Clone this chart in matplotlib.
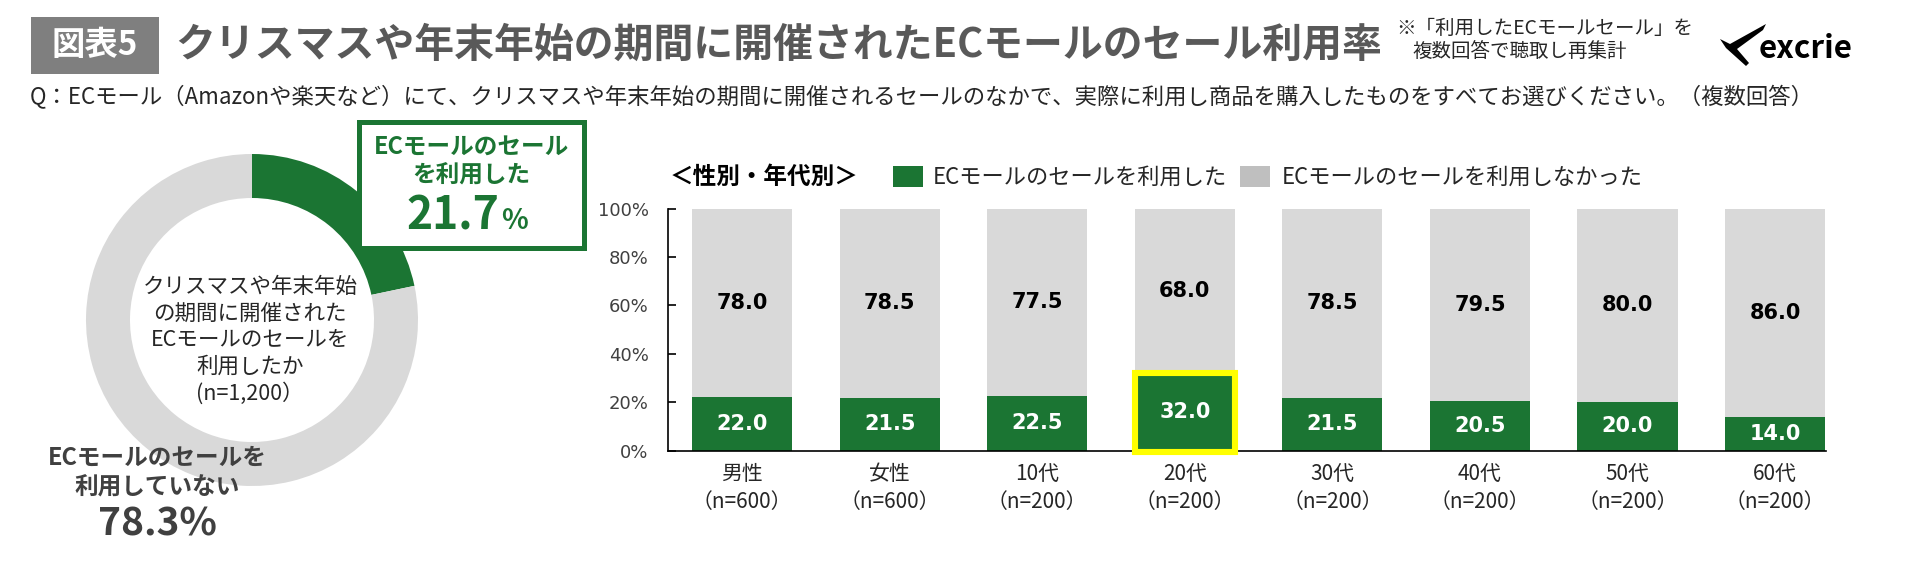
import matplotlib
matplotlib.use("Agg")
import matplotlib.pyplot as plt
from matplotlib.patches import Rectangle, Polygon

plt.rcParams['font.family'] = ['Noto Sans CJK JP', 'DejaVu Sans']

# データ
categories = ["男性", "女性", "10代", "20代", "30代", "40代", "50代", "60代"]
sample_sizes = [600, 600, 200, 200, 200, 200, 200, 200]
used = [22.0, 21.5, 22.5, 32.0, 21.5, 20.5, 20.0, 14.0]
not_used = [78.0, 78.5, 77.5, 68.0, 78.5, 79.5, 80.0, 86.0]
total_share = [21.7, 78.3]
total_n = 1200

GREEN = "#1b7533"
GRAY = "#d9d9d9"
DARK = "#404040"
TXT = "#262626"

W, H = 1919, 564
fig = plt.figure(figsize=(W / 100, H / 100), dpi=100)

# ドーナツ
cx, cy, r = 252, 320, 170
ax_d = fig.add_axes([(cx - r) / W, (H - cy - r) / H, 2 * r / W, 2 * r / H])
ax_d.pie(total_share, startangle=90, counterclock=False, colors=[GREEN, GRAY],
         radius=166, wedgeprops=dict(width=44, edgecolor="none"))
ax_d.set_xlim(-r, r)
ax_d.set_ylim(-r, r)
ax_d.axis("off")

# 積み上げ棒グラフ
y0, y100 = 450.5, 208.5
x_left, x_right = 668, 1826
ax_b = fig.add_axes([x_left / W, (H - y0) / H, (x_right - x_left) / W, (y0 - y100) / H])
xs = list(range(len(categories)))
bw = 0.678
ax_b.bar(xs, used, width=bw, color=GREEN, zorder=2)
ax_b.bar(xs, not_used, width=bw, bottom=used, color=GRAY, zorder=2)
for x, u, n in zip(xs, used, not_used):
    ax_b.text(x, u / 2, f"{u:.1f}", ha="center", va="center", color="white",
              fontsize=15, fontweight="bold", family="DejaVu Sans", zorder=3)
    ax_b.text(x, u + n / 2, f"{n:.1f}", ha="center", va="center", color="black",
              fontsize=15, fontweight="bold", family="DejaVu Sans", zorder=3)

# 20代を強調
hi = used.index(max(used))
ax_b.add_patch(Rectangle((hi - bw / 2, -0.6), bw, used[hi] + 0.6, fill=False,
                         edgecolor="#ffff00", linewidth=4.4, zorder=5, clip_on=False))

ax_b.set_xlim(-0.502, 7.345)
ax_b.set_ylim(0, 100)
ax_b.set_yticks([0, 20, 40, 60, 80, 100])
ax_b.set_yticklabels([f"{v}%" for v in range(0, 101, 20)], family="DejaVu Sans",
                     fontsize=13, color=DARK)
ax_b.set_xticks(xs)
ax_b.set_xticklabels([f"{c}\n（n={n}）" for c, n in zip(categories, sample_sizes)],
                     fontsize=15, color=TXT, linespacing=1.35)
ax_b.tick_params(axis="y", direction="in", length=6, width=1.2, pad=14)
ax_b.tick_params(axis="x", length=0, pad=9)
for s in ["top", "right"]:
    ax_b.spines[s].set_visible(False)
ax_b.spines["left"].set_linewidth(1.2)
ax_b.spines["bottom"].set_linewidth(1.2)
ax_b.set_facecolor("none")

# テキスト・装飾用オーバーレイ
ov = fig.add_axes([0, 0, 1, 1], zorder=10)
ov.set_xlim(0, W)
ov.set_ylim(H, 0)
ov.axis("off")
ov.patch.set_alpha(0)

# タイトル
ov.add_patch(Rectangle((31, 17), 128, 57, facecolor="#7f7f7f", edgecolor="none"))
ov.text(95, 46, "図表5", ha="center", va="center", color="white", fontsize=24, fontweight="bold")
ov.text(175, 45, "クリスマスや年末年始の期間に開催されたECモールのセール利用率",
        ha="left", va="center", color="#595959", fontsize=28.7, fontweight="bold")
ov.text(1545, 28, "※「利用したECモールセール」を", ha="center", va="center", color=TXT, fontsize=14)
ov.text(1520, 51, "複数回答で聴取し再集計", ha="center", va="center", color=TXT, fontsize=14)

# ロゴ
ov.add_patch(Polygon([(1766, 24), (1730, 44), (1720, 39), (1726, 48), (1746, 66),
                      (1749, 63), (1737, 49), (1763, 30)], closed=True,
                     facecolor="black", edgecolor="none"))
ov.text(1806, 49, "excrie", ha="center", va="center", color="black", fontsize=22.5, fontweight="bold")

ov.text(30, 97, "Q：ECモール（Amazonや楽天など）にて、クリスマスや年末年始の期間に開催されるセールのなかで、"
        "実際に利用し商品を購入したものをすべてお選びください。（複数回答）",
        ha="left", va="center", color=TXT, fontsize=16.1)

# ドーナツ中央
center_lines = ["クリスマスや年末年始", "の期間に開催された", "ECモールのセールを", "利用したか", f"(n={total_n:,}）"]
for i, line in enumerate(center_lines):
    ov.text(250, 287 + i * 26.7, line, ha="center", va="center", color=TXT, fontsize=15.5)

# 利用した ボックス
ov.add_patch(Rectangle((359, 122), 225, 126, facecolor="white", edgecolor=GREEN, linewidth=3.6))
ov.text(471, 147, "ECモールのセール", ha="center", va="center", color=GREEN, fontsize=17, fontweight="bold")
ov.text(471, 176, "を利用した", ha="center", va="center", color=GREEN, fontsize=17, fontweight="bold")
ov.text(499, 229, f"{total_share[0]:.1f}", ha="right", va="baseline", color=GREEN,
        fontsize=32, fontweight="bold")
ov.text(501, 229, "%", ha="left", va="baseline", color=GREEN, fontsize=20, fontweight="bold")

# 利用していない
ov.text(157, 458, "ECモールのセールを", ha="center", va="center", color=DARK, fontsize=17, fontweight="bold")
ov.text(157, 488, "利用していない", ha="center", va="center", color=DARK, fontsize=17, fontweight="bold")
ov.text(157, 524, f"{total_share[1]:.1f}%", ha="center", va="center", color=DARK,
        fontsize=28, fontweight="bold")

# 凡例
ov.text(670, 177, "＜性別・年代別＞", ha="left", va="center", color="black", fontsize=17, fontweight="bold")
ov.add_patch(Rectangle((893, 166), 30, 21, facecolor=GREEN, edgecolor="none"))
ov.text(933, 177, "ECモールのセールを利用した", ha="left", va="center", color=TXT, fontsize=16)
ov.add_patch(Rectangle((1240, 166), 30, 21, facecolor="#bfbfbf", edgecolor="none"))
ov.text(1282, 177, "ECモールのセールを利用しなかった", ha="left", va="center", color=TXT, fontsize=16)

fig.savefig("out.png", dpi=100)
